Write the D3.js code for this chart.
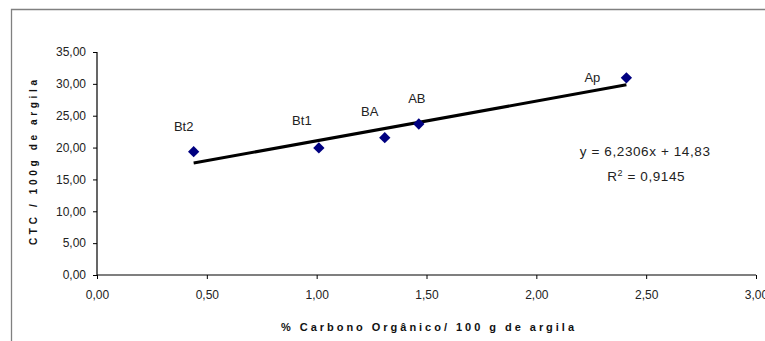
<!DOCTYPE html>
<html>
<head>
<meta charset="utf-8">
<script src="https://cdn.jsdelivr.net/npm/d3@7"></script>
<style>
  body { margin: 0; background: #fff; }
  svg { display: block; font-family: Arial, "Liberation Sans", sans-serif; }
  .tick text { font-size: 12px; fill: #222; }
</style>
</head>
<body>
<div id="chart"></div>
<script>
// data
const horizons = ["Bt2", "Bt1", "BA", "AB", "Ap"];
const carbon   = [0.44, 1.01, 1.31, 1.465, 2.41];
const ctc      = [19.35, 19.95, 21.55, 23.7, 30.95];
const xTicks   = [0, 0.5, 1, 1.5, 2, 2.5, 3];
const yTicks   = [0, 5, 10, 15, 20, 25, 30, 35];
const slope = 6.2306, intercept = 14.83, r2 = 0.9145;
// label nudges relative to each point (px)
const labelDx = [-10, -17, -15, -2, -34];
const labelDy = [-21, -23, -22, -21, 4];

const width = 765, height = 341,
      margin = { top: 52, left: 97, right: 9, bottom: 66 },
      plotW = width - margin.left - margin.right,
      plotH = height - margin.top - margin.bottom;

const fmt = d => d.toFixed(2).replace(".", ",");
const comma = v => String(v).replace(".", ",");
const data = horizons.map((h, i) => ({ name: h, x: carbon[i], y: ctc[i], dx: labelDx[i], dy: labelDy[i] }));

const svg = d3.select("#chart").append("svg").attr("width", width).attr("height", height);

// chart area frame (cut at right/bottom like the source)
svg.append("path").attr("d", `M11.5,${height} V9.5 H${width}`)
   .attr("fill", "none").attr("stroke", "#808080").attr("stroke-width", 1.3);

const xScale = d3.scaleLinear().domain([0, 3]).range([0, plotW]);
const yScale = d3.scaleLinear().domain([0, 35]).range([plotH, 0]);

const g = svg.append("g").attr("transform", `translate(${margin.left},${margin.top})`);

const xAxis = d3.axisBottom(xScale).tickValues(xTicks).tickFormat(fmt).tickSize(4).tickPadding(11);
const yAxis = d3.axisLeft(yScale).tickValues(yTicks).tickFormat(fmt).tickSize(4).tickPadding(7);

const xg = g.append("g").attr("transform", `translate(0,${plotH})`).call(xAxis);
const yg = g.append("g").call(yAxis);
[xg, yg].forEach(a => {
  a.select(".domain").attr("stroke", "#000").attr("stroke-width", 1.2);
  a.selectAll(".tick line").attr("stroke", "#000");
});
xg.selectAll(".domain").attr("d", `M0,0H${plotW}`);
yg.selectAll(".domain").attr("d", `M0,${plotH}V0`);

// trendline across the data range
const x0 = d3.min(carbon), x1 = d3.max(carbon);
g.append("line")
  .attr("x1", xScale(x0)).attr("y1", yScale(slope * x0 + intercept))
  .attr("x2", xScale(x1)).attr("y2", yScale(slope * x1 + intercept))
  .attr("stroke", "#000").attr("stroke-width", 3);

// diamond markers
g.selectAll(".pt").data(data).enter().append("path")
  .attr("class", "pt")
  .attr("d", d3.symbol().type(d3.symbolSquare).size(64))
  .attr("transform", d => `translate(${xScale(d.x)},${yScale(d.y)}) rotate(45)`)
  .attr("fill", "#000080");

// point labels
g.selectAll(".lbl").data(data).enter().append("text")
  .attr("class", "lbl")
  .attr("x", d => xScale(d.x) + d.dx)
  .attr("y", d => yScale(d.y) + d.dy)
  .attr("text-anchor", "middle")
  .attr("font-size", 13).attr("fill", "#222")
  .text(d => d.name);

// equation
const eq = g.append("text").attr("text-anchor", "middle").attr("font-size", 13.5)
  .attr("fill", "#222").attr("letter-spacing", 0.6);
eq.append("tspan").attr("x", xScale(2.5) - 1).attr("y", yScale(18.6))
  .text(`y = ${comma(slope)}x + ${comma(intercept)}`);
const r = eq.append("tspan").attr("x", xScale(2.5)).attr("y", yScale(14.7));
r.append("tspan").text("R");
r.append("tspan").attr("font-size", 9).attr("dy", -5).text("2");
r.append("tspan").attr("dy", 5).text(` = ${comma(r2)}`);

// axis titles
svg.append("text")
  .attr("x", 281).attr("y", 331)
  .attr("textLength", 293).attr("lengthAdjust", "spacing")
  .attr("font-size", 11).attr("font-weight", "bold").attr("fill", "#111")
  .text("% Carbono Orgânico/ 100 g de argila");

svg.append("text")
  .attr("transform", `translate(37,245) rotate(-90)`)
  .attr("textLength", 165).attr("lengthAdjust", "spacing")
  .attr("font-size", 10).attr("font-weight", "bold").attr("fill", "#111")
  .text("CTC / 100g de argila");
</script>
</body>
</html>
